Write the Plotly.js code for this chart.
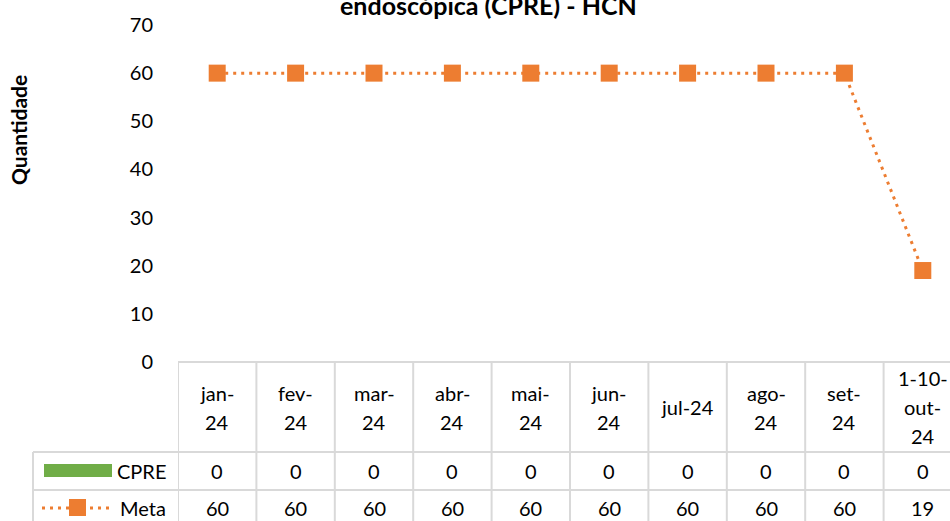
<!DOCTYPE html>
<html><head><meta charset="utf-8">
<script src="https://cdn.plot.ly/plotly-3.0.1.min.js"></script>
<style>html,body{margin:0;padding:0;background:#fff;}#chart{width:950px;height:521px;}</style>
</head><body><div id="chart"></div>
<script>
const categories = ["jan-24","fev-24","mar-24","abr-24","mai-24","jun-24","jul-24","ago-24","set-24","1-10-out-24"];
const headerLabels = [["jan-","24"],["fev-","24"],["mar-","24"],["abr-","24"],["mai-","24"],["jun-","24"],["jul-24"],["ago-","24"],["set-","24"],["1-10-","out-","24"]];
const cpre = [0,0,0,0,0,0,0,0,0,0];
const meta = [60,60,60,60,60,60,60,60,60,19];
const seriesNames = ["CPRE","Meta"];
const titleText = "endoscópica (CPRE) - HCN";
const yTitle = "Quantidade";

const W=950,H=521, L=178, T=25, B=362, R=950;
const plotW = R-L, plotH = B-T;
const colW = 78.4;
const px2py = py => (B-py)/plotH;
const px2px = px => (px-L)/plotW;
const FONT = "Lato, 'Open Sans', sans-serif";
const grid = "#d9d9d9";
const green = "#70AD47", orange = "#ED7D31";

const idx = categories.map((c,i)=>i);
const traces = [
  {type:"bar", x: idx, y: cpre, name: seriesNames[0], marker:{color:green}, showlegend:false, hoverinfo:"skip"},
  {type:"scatter", mode:"lines+markers", x: idx, y: meta, name: seriesNames[1],
   line:{color:orange, width:3, dash:"3px,5px"}, marker:{symbol:"square", size:17, color:orange},
   showlegend:false, cliponaxis:false}
];

const shapes = [];
const annotations = [];
const line = (x0,y0,x1,y1,xref) => shapes.push({type:"line", xref:xref||"paper", yref:"paper", x0, y0, x1, y1, line:{color:grid, width:2}, layer:"below"});
const bottomPx = 530;
line(0, px2py(B), px2px(965), px2py(B));
line(px2px(33), px2py(452), px2px(965), px2py(452));
line(px2px(33), px2py(490), px2px(965), px2py(490));
line(px2px(33), px2py(452), px2px(33), px2py(bottomPx));
for (let k=0;k<=categories.length;k++){
  shapes.push({type:"line", xref:"x", yref:"paper", x0:k-0.5, x1:k-0.5, y0:px2py(B), y1:px2py(bottomPx), line:{color:grid,width:2}, layer:"below"});
}
// legend keys
shapes.push({type:"rect", xref:"paper", yref:"paper", x0:px2px(44), x1:px2px(112), y0:px2py(464), y1:px2py(477), fillcolor:green, line:{width:0}});
shapes.push({type:"line", xref:"paper", yref:"paper", x0:px2px(42), x1:px2px(112), y0:px2py(508), y1:px2py(508), line:{color:orange,width:3,dash:"3px,5px"}});
shapes.push({type:"rect", xref:"paper", yref:"paper", x0:px2px(69), x1:px2px(86), y0:px2py(499), y1:px2py(516), fillcolor:orange, line:{width:0}});

const tf = {family:FONT, size:20, color:"#000"};
headerLabels.forEach((lines,i)=>{
  const n = lines.length;
  lines.forEach((t,k)=>{
    const py = 407 + (k-(n-1)/2)*29;
    annotations.push({xref:"x", yref:"paper", x:i, y:px2py(py), text:t, showarrow:false, font:tf, xanchor:"center", yanchor:"middle"});
  });
});
[cpre, meta].forEach((arr,r)=>{
  const py = r===0 ? 471 : 508;
  arr.forEach((v,i)=>annotations.push({xref:"x", yref:"paper", x:i, y:px2py(py), text:String(v), showarrow:false, font:tf, xanchor:"center", yanchor:"middle"}));
  annotations.push({xref:"paper", yref:"paper", x:px2px(168), y:px2py(py), text:seriesNames[r], showarrow:false, font:tf, xanchor:"right", yanchor:"middle"});
});
annotations.push({xref:"paper", yref:"paper", x:px2px(488), y:px2py(5), text:"<b>"+titleText+"</b>", showarrow:false, font:{family:FONT,size:25,color:"#000"}, xanchor:"center", yanchor:"middle"});
annotations.push({xref:"paper", yref:"paper", x:px2px(18), y:px2py(130), text:"<b>"+yTitle+"</b>", textangle:-90, showarrow:false, font:{family:FONT,size:21,color:"#000"}, xanchor:"center", yanchor:"middle"});

const layout = {
  width:W, height:H, margin:{l:L, r:0, t:T, b:H-B, pad:0},
  paper_bgcolor:"#fff", plot_bgcolor:"#fff", showlegend:false,
  xaxis:{range:[-0.5, -0.5+plotW/colW], showticklabels:false, showgrid:false, zeroline:false, showline:false, ticks:""},
  yaxis:{range:[0,70], dtick:10, tick0:0, showgrid:false, zeroline:false, showline:false, ticks:"outside", ticklen:20, tickcolor:"rgba(0,0,0,0)", tickfont:tf},
  shapes, annotations, bargap:0.5
};
Plotly.newPlot("chart", traces, layout, {staticPlot:true, displayModeBar:false});
</script></body></html>
